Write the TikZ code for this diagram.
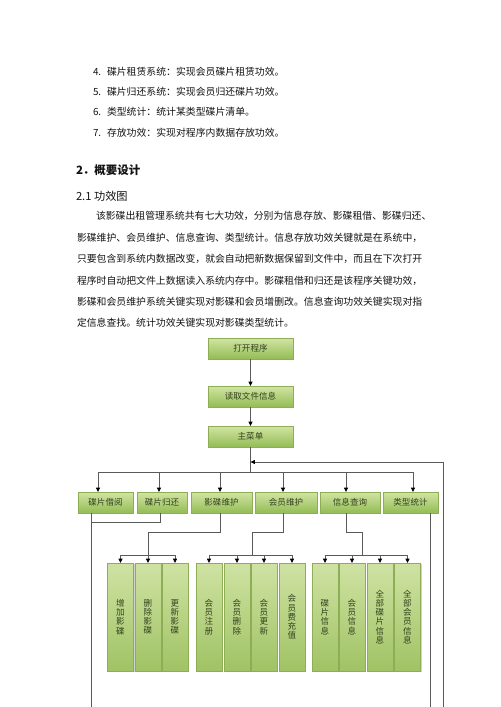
\documentclass[tikz,border=0pt]{standalone}
\usepackage{fontspec}
\setmainfont{Noto Sans CJK SC}
\usetikzlibrary{arrows.meta,shadows}
\definecolor{txt}{HTML}{141414}
\definecolor{gtop}{HTML}{D2E5A4}
\definecolor{gbot}{HTML}{93BC55}
\definecolor{stop}{HTML}{CFE2A3}
\definecolor{sbot}{HTML}{A0C364}
\definecolor{gedge}{HTML}{8DAE55}
\definecolor{btxt}{HTML}{34421F}
\definecolor{wirec}{HTML}{5A5A5A}
\begin{document}
\begin{tikzpicture}[x=0.75pt,y=-0.75pt,
  every node/.style={inner sep=0pt, outer sep=0pt},
  bodytext/.style={anchor=west, text=txt, font=\fontsize{7.4pt}{9pt}\selectfont},
  listtext/.style={anchor=west, text=txt, font=\fontsize{7.4pt}{9pt}\selectfont},
  gbox/.style={draw=gedge, line width=0.3pt, top color=gtop, bottom color=gbot,
    text=btxt, font=\fontsize{6.4pt}{7pt}\selectfont, minimum height=15.75pt,
    drop shadow={shadow xshift=1pt, shadow yshift=-1pt, fill=black!35}},
  sbox/.style={draw=gedge, line width=0.3pt, top color=stop, bottom color=sbot,
    text=btxt, align=center, font=\fontsize{6.4pt}{6.9pt}\selectfont,
    minimum width=19.5pt, minimum height=81pt,
    drop shadow={shadow xshift=1pt, shadow yshift=-1pt, fill=black!35}},
  wire/.style={draw=wirec, line width=0.5pt},
  arr/.style={wire, -{Triangle[length=3.2pt,width=3pt,color=black]}}
]
\useasboundingbox[fill=white] (0,0) rectangle (500,707);

% list items
\node[listtext] (n4) at (93,72) {4.};
\node[listtext] (t4) at (107,72) {碟片租赁系统：实现会员碟片租赁功效。};
\node[listtext] (n5) at (93,92) {5.};
\node[listtext] (t5) at (107,92) {碟片归还系统：实现会员归还碟片功效。};
\node[listtext] (n6) at (93,112) {6.};
\node[listtext] (t6) at (107,112) {类型统计：统计某类型碟片清单。};
\node[listtext] (n7) at (93,133) {7.};
\node[listtext] (t7) at (107,133) {存放功效：实现对程序内数据存放功效。};

% headings
\node[anchor=west, text=txt, font=\fontsize{8.6pt}{10pt}\selectfont\bfseries] (h2) at (76,170) {2．概要设计};
\node[anchor=west, text=txt, font=\fontsize{8.4pt}{10pt}\selectfont] (h21) at (76,196) {2.1 功效图};

% paragraph
\node[bodytext] (p1) at (96,216) {该影碟出租管理系统共有七大功效，分别为信息存放、影碟租借、影碟归还、};
\node[bodytext] (p2) at (77,238) {影碟维护、会员维护、信息查询、类型统计。信息存放功效关键就是在系统中，};
\node[bodytext] (p3) at (77,259) {只要包含到系统内数据改变，就会自动把新数据保留到文件中，而且在下次打开};
\node[bodytext] (p4) at (77,281) {程序时自动把文件上数据读入系统内存中。影碟租借和归还是该程序关键功效，};
\node[bodytext] (p5) at (77,302) {影碟和会员维护系统关键实现对影碟和会员增删改。信息查询功效关键实现对指};
\node[bodytext] (p6) at (77,323) {定信息查找。统计功效关键实现对影碟类型统计。};

% top boxes
\node[gbox, minimum width=63.75pt] (ob) at (250.5,348.5) {打开程序};
\node[gbox, minimum width=63.75pt] (rf) at (250.5,396.5) {读取文件信息};
\node[gbox, minimum width=63.75pt] (mm) at (250.5,436.5) {主菜单};

% second row
\node[gbox, minimum width=41.25pt] (b1) at (105.5,502.5) {碟片借阅};
\node[gbox, minimum width=37.5pt]  (b2) at (162,502.5) {碟片归还};
\node[gbox, minimum width=45.75pt] (b3) at (221.5,502.5) {影碟维护};
\node[gbox, minimum width=46.5pt]  (b4) at (286,502.5) {会员维护};
\node[gbox, minimum width=45pt]    (b5) at (350,502.5) {信息查询};
\node[gbox, minimum width=41.25pt] (b6) at (410.5,502.5) {类型统计};

% sub boxes
\node[sbox] (s11) at (120.5,617) {增\\加\\影\\碟};
\node[sbox] (s12) at (148,617) {删\\除\\影\\碟};
\node[sbox] (s13) at (175,617) {更\\新\\影\\碟};
\node[sbox] (s21) at (209,617) {会\\员\\注\\册};
\node[sbox] (s22) at (237,617) {会\\员\\删\\除};
\node[sbox] (s23) at (264,617) {会\\员\\更\\新};
\node[sbox] (s24) at (292,617) {会\\员\\费\\充\\值};
\node[sbox] (s31) at (325,617) {碟\\片\\信\\息};
\node[sbox] (s32) at (352,617) {会\\员\\信\\息};
\node[sbox] (s33) at (380,617) {全\\部\\碟\\片\\信\\息};
\node[sbox] (s34) at (407.5,617) {全\\部\\会\\员\\信\\息};

% connectors top
\draw[arr] (ob) -- (rf);
\draw[arr] (rf) -- (mm);
\draw[wire] (mm.south) -- (mm.south |- 0,472);
\coordinate (bl) at (98,472);
\coordinate (br) at (413,472);
\draw[wire] (bl) -- (br);
\foreach \x/\n in {98/b1,159/b2,220/b3,283/b4,346/b5,413/b6}
  \draw[arr] (\x,472) -- (\x,0 |- \n.north);

% loop back
\coordinate (lp) at (443,707);
\draw[arr] (lp) |- (mm.south |- 0,462);

% rental / return / stats
\coordinate (e1) at (91,707);
\draw[wire] (91,0 |- b1.south) -- (e1);
\draw[wire] (160,0 |- b2.south) |- (91,522);
\coordinate (e6) at (430,707);
\draw[wire] (430,0 |- b6.south) -- (e6);

% group 1
\draw[wire] (220,0 |- b3.south) -- (220,532) -| (148,555);
\draw[wire] (s11.north |- 0,555) -- (s13.north |- 0,555);
\foreach \n in {s11,s12,s13} \draw[arr] (\n.north |- 0,555) -- (\n.north);
% group 2
\draw[wire] (283,0 |- b4.south) -- (283,532) -| (252,555);
\draw[wire] (s21.north |- 0,555) -- (s24.north |- 0,555);
\foreach \n in {s21,s22,s23,s24} \draw[arr] (\n.north |- 0,555) -- (\n.north);
% group 3
\draw[wire] (346,0 |- b5.south) -- (346,532) -| (362,555);
\draw[wire] (s31.north |- 0,555) -- (s34.north |- 0,555);
\foreach \n in {s31,s32,s33,s34} \draw[arr] (\n.north |- 0,555) -- (\n.north);
\end{tikzpicture}
\end{document}
